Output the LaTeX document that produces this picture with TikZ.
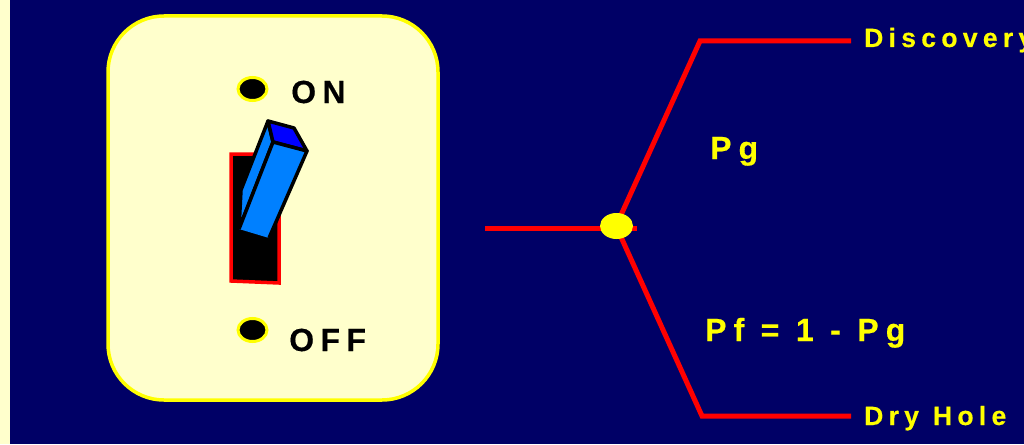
\documentclass[tikz,border=0pt]{standalone}
\usepackage{fontspec}
\setmainfont{Liberation Sans}
\newfontfamily\lblA[LetterSpace=20,FakeBold=0.4]{Liberation Sans Bold}
\newfontfamily\lblC[LetterSpace=22,FakeBold=0.4]{Liberation Sans Bold}
\newfontfamily\lblB[LetterSpace=20,FakeBold=0.4]{Liberation Sans Bold}
\definecolor{navy}{RGB}{0,0,102}
\definecolor{cream}{RGB}{255,255,204}
\definecolor{yel}{RGB}{255,255,0}
\definecolor{redl}{RGB}{255,0,0}
\definecolor{blueA}{RGB}{0,128,255}
\definecolor{blueB}{RGB}{0,0,255}
\newcommand\spA{\spaceskip 14pt\relax}
\newcommand\spC{\spaceskip 16.5pt\relax}
\tikzset{
  branch/.style={draw=redl,line width=5pt,line join=miter},
  ylabel/.style={inner sep=0pt,anchor=base west,text=yel,font=\fontsize{26.5}{26.5}\lblA,execute at begin node=\spA},
  plabel/.style={inner sep=0pt,anchor=base west,text=yel,font=\fontsize{32}{32}\lblC,execute at begin node=\spC},
  swlabel/.style={inner sep=0pt,anchor=base west,text=black,font=\fontsize{32}{32}\lblB},
  screw/.style={ellipse,draw=yel,fill=black,line width=3pt,minimum width=29pt,minimum height=23pt,inner sep=0pt},
  toggle/.style={draw=black,line width=3.5pt,line join=round}
}
\usetikzlibrary{shapes.geometric}
\begin{document}
\begin{tikzpicture}[x=1pt,y=-1pt]
\useasboundingbox (0,0) rectangle (1024,444);
\clip (0,0) rectangle (1024,444);
\fill[cream] (0,0) rectangle (1024,444);
\fill[navy] (10,0) rectangle (1024,444);
% plate
\draw[fill=cream,draw=yel,line width=3.5pt,rounded corners=56pt] (108,16) rectangle (438,400);
\node[screw] (on) at (252.5,89) {};
\node[screw] (off) at (252.5,330) {};
\node[swlabel] (onl) at (291,103) {ON};
\node[swlabel] (offl) at (289,351) {OFF};
% slot
\draw[fill=black,draw=redl,line width=3.5pt,line join=miter] (231,154) -- (279,154) -- (279,283) -- (231,281) -- cycle;
% toggle
\draw[toggle,fill=blueA] (268,121) -- (273,142) -- (239,229) -- (241,190) -- cycle;
\draw[toggle,fill=blueB] (268,121) -- (294,128) -- (307,151) -- (273,142) -- cycle;
\fill[blueA] (239,229) -- (273,142) -- (307,151) -- (269,238) -- cycle;
\draw[toggle] (239,229) -- (273,142) -- (307,151) -- (269,238);
% tree
\coordinate (in) at (485,228);
\coordinate (outr) at (637,228);
\coordinate (c1) at (700,41);
\coordinate (e1) at (851,41);
\coordinate (c2) at (702,416);
\coordinate (e2) at (851,416);
\coordinate (hub) at (616,226);
\draw[branch] (in) -- (outr);
\draw[branch] (hub) -- (c1) -- (e1);
\draw[branch] (hub) -- (c2) -- (e2);
\node[ellipse,fill=yel,minimum width=33pt,minimum height=26pt,inner sep=0pt] (node) at (616.5,226) {};
\node[ylabel] (d) at (864,47) {Discovery};
\node[plabel] (pg) at (710,159) {Pg};
\node[plabel] (pf) at (705,341) {Pf = 1 - Pg};
\node[ylabel] (dh) at (864,425) {Dry Hole};
\end{tikzpicture}
\end{document}
